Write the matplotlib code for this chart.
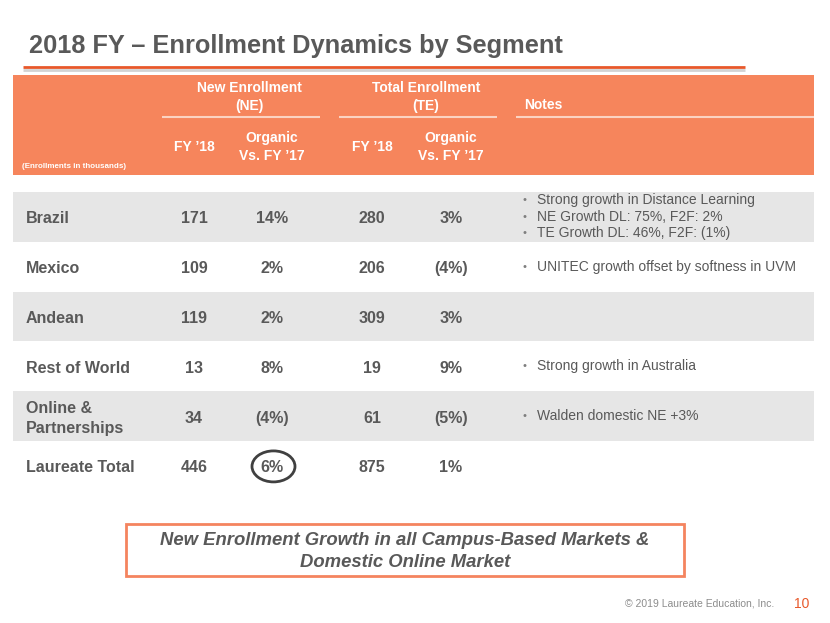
import matplotlib
matplotlib.use("Agg")
import matplotlib.pyplot as plt
from matplotlib.patches import Rectangle, Ellipse

plt.rcParams['font.family'] = ['Liberation Sans', 'DejaVu Sans']

title = "2018 FY \u2013 Enrollment Dynamics by Segment"
segments = ["Brazil", "Mexico", "Andean", "Rest of World", "Online &\nPartnerships", "Laureate Total"]
ne_fy18 = [171, 109, 119, 13, 34, 446]
ne_growth = ["14%", "2%", "2%", "8%", "(4%)", "6%"]
te_fy18 = [280, 206, 309, 19, 61, 875]
te_growth = ["3%", "(4%)", "3%", "9%", "(5%)", "1%"]
notes = [
    ["Strong growth in Distance Learning", "NE Growth DL: 75%, F2F: 2%", "TE Growth DL: 46%, F2F: (1%)"],
    ["UNITEC growth offset by softness in UVM"],
    [],
    ["Strong growth in Australia"],
    ["Walden domestic NE +3%"],
    [],
]
group_headers = ["New Enrollment\n(NE)", "Total Enrollment\n(TE)"]
sub_headers = ["FY \u201918", "Organic\nVs. FY \u201917"]
units_note = "(Enrollments in thousands)"
callout = "New Enrollment Growth in all Campus-Based Markets &\nDomestic Online Market"
footer = "\u00a9 2019 Laureate Education, Inc."
page_no = "10"

W, H = 830, 623
fig = plt.figure(figsize=(W / 100, H / 100), dpi=100)
ax = fig.add_axes([0, 0, 1, 1])
ax.set_xlim(0, W)
ax.set_ylim(H, 0)
ax.axis("off")

GRAY = "#595959"
ORANGE = "#F6855C"
LINE_OR = "#E8582A"
BAND = "#E6E6E6"

# Title
ax.text(29, 46, title, fontsize=18.3, fontweight="bold", color=GRAY, va="center", ha="left")
ax.plot([23, 745], [69.5, 69.5], color="#C8C8C8", lw=2, solid_capstyle="butt", alpha=0.8)
ax.plot([23, 745], [67, 67], color=LINE_OR, lw=2, solid_capstyle="butt")

# Header block
ax.add_patch(Rectangle((13, 75), 801, 100, facecolor=ORANGE, edgecolor="none"))
col_x = [194, 272, 372, 451]
grp_x = [249, 426]
for gx, g in zip(grp_x, group_headers):
    ax.text(gx, 97, g, fontsize=10, fontweight="bold", color="white", ha="center", va="center",
            linespacing=1.45)
for x0, x1 in [(162, 320), (339, 497), (516, 814)]:
    ax.plot([x0, x1], [117, 117], color="#FBD3C2", lw=1.5, solid_capstyle="butt")
ax.text(524, 105, "Notes", fontsize=10, fontweight="bold", color="white", ha="left", va="center")
for i, cx in enumerate(col_x):
    sh = sub_headers[i % 2]
    ax.text(cx, 147, sh, fontsize=10, fontweight="bold", color="white", ha="center", va="center",
            linespacing=1.35)
ax.text(22, 167, units_note, fontsize=5.8, fontweight="bold", color="white", ha="left", va="center")

# Rows
row_top = 192
row_h = 49.8
for i, seg in enumerate(segments):
    y0 = row_top + i * row_h
    yc = y0 + row_h / 2
    if i % 2 == 0:
        ax.add_patch(Rectangle((13, y0), 801, row_h, facecolor=BAND, edgecolor="none"))
    ax.text(26, yc + 2, seg, fontsize=11.5, fontweight="bold", color=GRAY, ha="left", va="center",
            linespacing=1.4)
    vals = [str(ne_fy18[i]), ne_growth[i], str(te_fy18[i]), te_growth[i]]
    for cx, v in zip(col_x, vals):
        ax.text(cx, yc + 2, v, fontsize=11.5, fontweight="bold", color=GRAY, ha="center", va="center")
    n = len(notes[i])
    for j, note in enumerate(notes[i]):
        ny = yc + (j - (n - 1) / 2) * 16.5
        ax.text(522, ny, "\u2022", fontsize=8, color="#7F7F7F", ha="left", va="center")
        ax.text(537, ny, note, fontsize=10, color=GRAY, ha="left", va="center")

# Circle around total NE growth
tot_y = row_top + 5 * row_h + row_h / 2
ax.add_patch(Ellipse((273.5, tot_y + 0.5), 43, 31, facecolor="none", edgecolor="#404040", lw=2))

# Callout box
ax.add_patch(Rectangle((126, 524), 558, 52, facecolor="white", edgecolor="#F4845F", lw=2))
ax.text(405, 551.5, callout, fontsize=13.3, fontweight="bold", fontstyle="italic", color=GRAY,
        ha="center", va="center", linespacing=1.35)

# Footer
ax.text(774, 604, footer, fontsize=7.5, color="#8C8C8C", ha="right", va="center")
ax.text(802, 604, page_no, fontsize=10, color=LINE_OR, ha="center", va="center")

fig.savefig("out.png", dpi=100, facecolor="white")
